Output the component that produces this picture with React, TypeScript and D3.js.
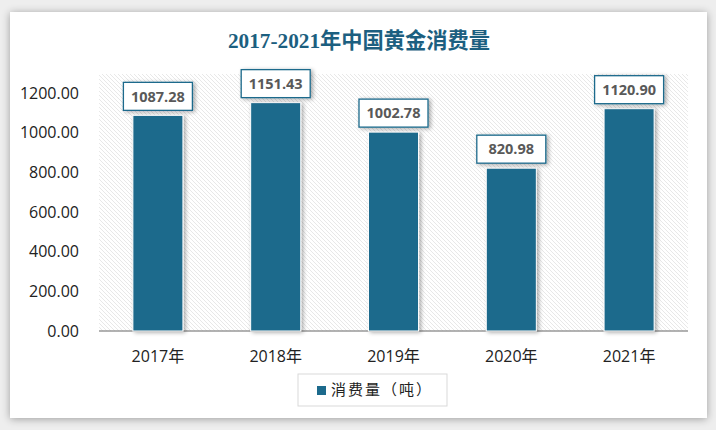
import React from "react";
import * as d3 from "d3";

const categories = ["2017年", "2018年", "2019年", "2020年", "2021年"];
const values = [1087.28, 1151.43, 1002.78, 820.98, 1120.9];
const yTicks = [0, 200, 400, 600, 800, 1000, 1200];
const title = "2017-2021年中国黄金消费量";
const seriesName = "消费量（吨）";

export default function App() {
  const W = 716, H = 430;
  const plotL = 99, plotR = 688, plotT = 74, base = 331;
  const x = d3.scaleBand<string>().domain(categories).range([plotL, plotR]).paddingInner(0.575).paddingOuter(0.2875);
  const y = d3.scaleLinear().domain([0, 1200]).range([base, 93]);
  const color = "#1c6a8c";
  const font = "'Open Sans', 'Noto Sans CJK SC', sans-serif";
  return (
    <div style={{ position: "absolute", left: 0, top: 0, width: W, height: H }}>
      <svg width={W} height={H} style={{ display: "block" }}>
        <defs>
          <filter id="cardShadow" x="-5%" y="-5%" width="110%" height="110%">
            <feGaussianBlur in="SourceAlpha" stdDeviation="4" />
            <feOffset dx="0" dy="1" result="b" />
            <feComponentTransfer><feFuncA type="linear" slope="0.35" /></feComponentTransfer>
            <feMerge><feMergeNode /><feMergeNode in="SourceGraphic" /></feMerge>
          </filter>
          <filter id="barShadow" x="-20%" y="-20%" width="150%" height="140%">
            <feGaussianBlur in="SourceAlpha" stdDeviation="2" />
            <feOffset dx="2" dy="1" result="b" />
            <feComponentTransfer><feFuncA type="linear" slope="0.35" /></feComponentTransfer>
            <feMerge><feMergeNode /><feMergeNode in="SourceGraphic" /></feMerge>
          </filter>
          <pattern id="hatch" width="4" height="4" patternUnits="userSpaceOnUse">
            <rect width="4" height="4" fill="#ffffff" />
            <path d="M-1,-1 L5,5 M-1,3 L1,5 M3,-1 L5,1" stroke="#e2e2e2" strokeWidth="0.8" />
          </pattern>
        </defs>
        <rect x={0} y={0} width={W} height={H} fill="#eeeeee" />
        <rect x={10} y={12} width={697} height={406} fill="#ffffff" filter="url(#cardShadow)" />
        <text x={359} y={48} textAnchor="middle" fontSize={22} fontWeight="bold" fill="#1c5f80"
          fontFamily="'Liberation Serif', 'Noto Sans CJK SC', serif" textLength={262} lengthAdjust="spacingAndGlyphs">{title}</text>
        <rect x={plotL} y={plotT} width={plotR - plotL} height={base - plotT} fill="url(#hatch)" />
        {yTicks.map((t) => (
          <text key={t} x={79} y={y(t)} dy="0.35em" textAnchor="end" fontSize={16} fill="#222" fontFamily={font}>
            {d3.format(".2f")(t)}
          </text>
        ))}
        <line x1={plotL} x2={plotR} y1={base} y2={base} stroke="#999" strokeWidth={1.5} />
        {categories.map((c, i) => {
          const bx = x(c)!;
          const bw = x.bandwidth();
          const by = y(values[i]);
          const cx = bx + bw / 2;
          const label = d3.format(".2f")(values[i]);
          const boxW = 69, boxH = 28;
          const boxY = by - 5 - boxH;
          return (
            <g key={c}>
              <rect x={bx} y={by} width={bw} height={base - by} fill={color} stroke="#ffffff" strokeWidth={1} filter="url(#barShadow)" />
              <rect x={cx - boxW / 2} y={boxY} width={boxW} height={boxH} fill="#ffffff" stroke={color} strokeWidth={1.3} filter="url(#barShadow)" />
              <text x={cx} y={boxY + boxH / 2} dy="0.36em" textAnchor="middle" fontSize={14.5} fontWeight="bold" fill="#595959" fontFamily={font}>
                {label}
              </text>
              <text x={cx} y={356} dy="0.35em" textAnchor="middle" fontSize={16} fill="#222" fontFamily={font}>
                {c}
              </text>
            </g>
          );
        })}
        <rect x={298} y={374} width={149} height={32} fill="#ffffff" stroke="#d9d9d9" strokeWidth={1} />
        <rect x={317} y={386} width={9} height={9} fill={color} />
        <text x={331} y={390} dy="0.36em" fontSize={15} fill="#222" fontFamily={font} letterSpacing={2}>{seriesName}</text>
      </svg>
    </div>
  );
}
